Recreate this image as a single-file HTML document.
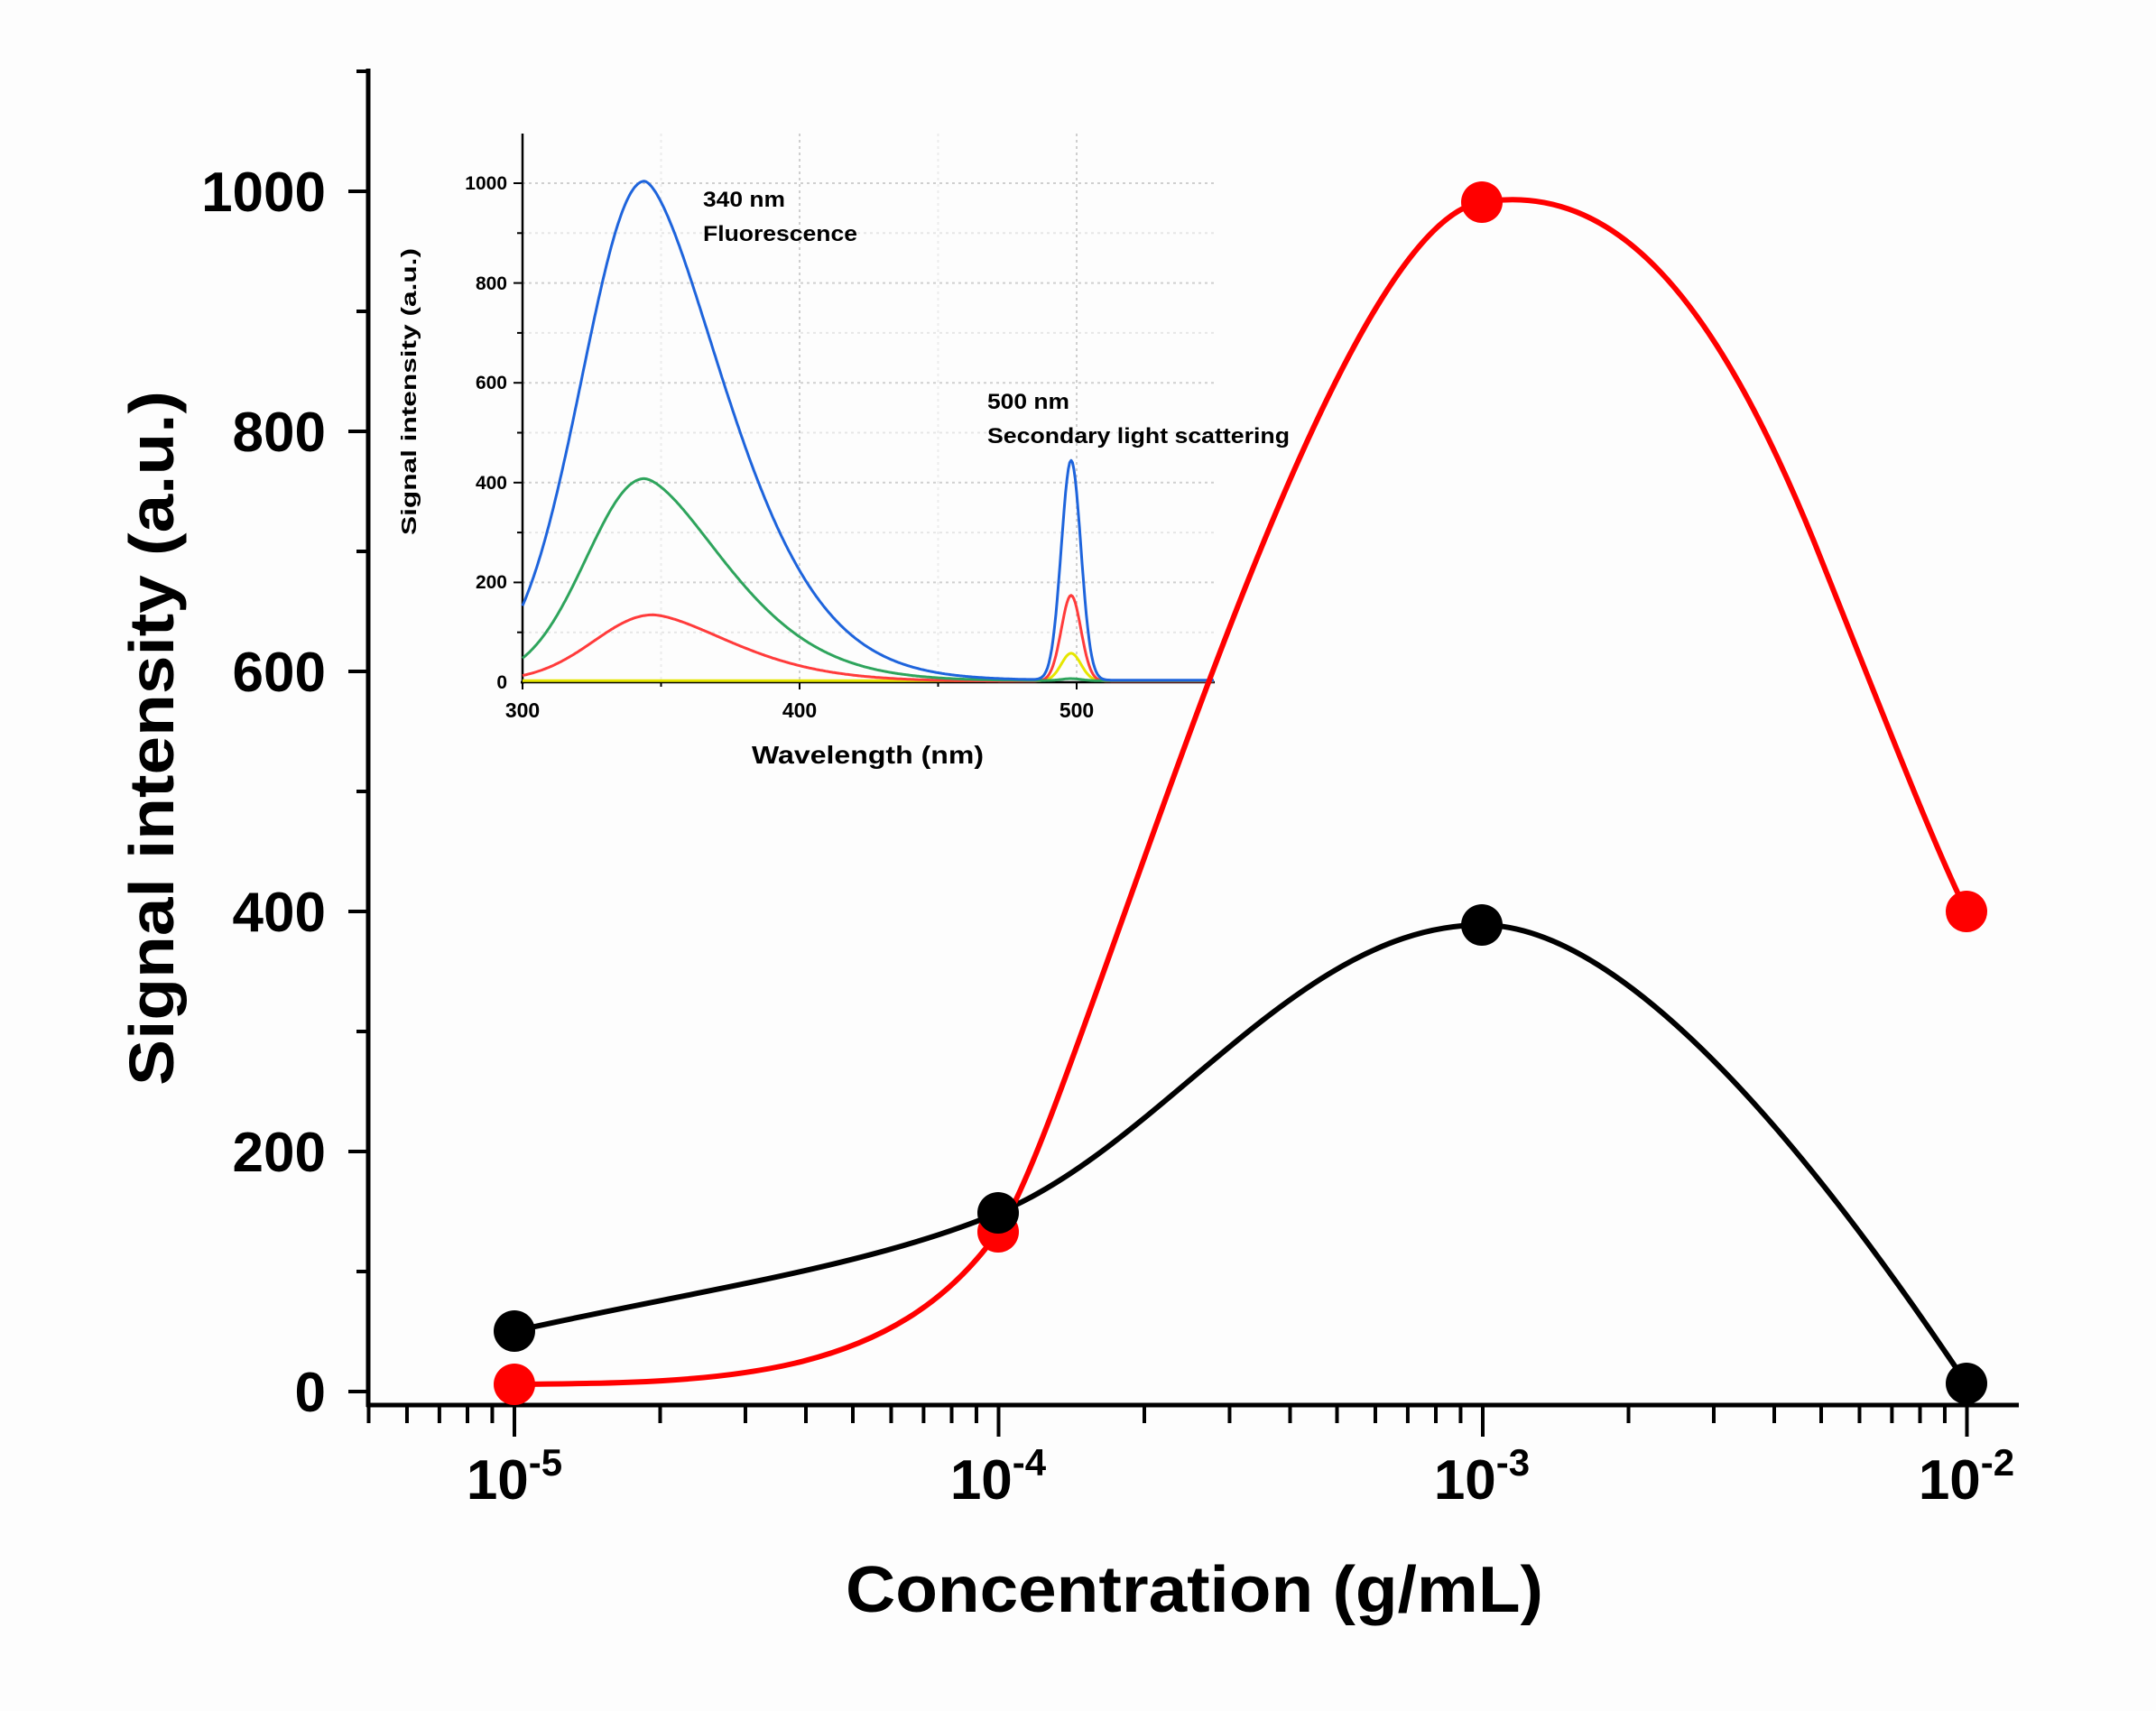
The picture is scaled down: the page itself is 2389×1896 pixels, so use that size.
<!DOCTYPE html>
<html><head><meta charset="utf-8"><style>
html,body{margin:0;padding:0;background:#fdfdfd;}
svg{display:block;}
text{font-family:"Liberation Sans",Arial,sans-serif;font-weight:bold;fill:#000;}
</style></head><body>
<svg id="s" width="2389" height="1896" viewBox="0 0 2389 1896" xmlns="http://www.w3.org/2000/svg">
<rect width="2389" height="1896" fill="#fdfdfd"/>
<g id="grid" stroke="#cfcfcf" stroke-width="2" stroke-dasharray="3,4"></g>
<g id="ticks" stroke="#000" fill="none"></g>
<line x1="408" y1="76" x2="408" y2="1559" stroke="#000" stroke-width="5"/>
<line x1="406" y1="1557" x2="2237" y2="1557" stroke="#000" stroke-width="5"/>
<g font-size="62" text-anchor="end">
<text x="361" y="1564">0</text>
<text x="361" y="1298">200</text>
<text x="361" y="1032">400</text>
<text x="361" y="766">600</text>
<text x="361" y="500">800</text>
<text x="361" y="234">1000</text>
</g>
<g font-size="62" text-anchor="middle">
<text x="570" y="1661">10<tspan font-size="42" dy="-26">-5</tspan></text>
<text x="1106" y="1661">10<tspan font-size="42" dy="-26">-4</tspan></text>
<text x="1642" y="1661">10<tspan font-size="42" dy="-26">-3</tspan></text>
<text x="2179" y="1661">10<tspan font-size="42" dy="-26">-2</tspan></text>
</g>
<text x="937" y="1786" font-size="72" textLength="773" lengthAdjust="spacingAndGlyphs">Concentration (g/mL)</text>
<text transform="translate(192,818) rotate(-90)" font-size="70" text-anchor="middle" textLength="770" lengthAdjust="spacingAndGlyphs">Signal intensity (a.u.)</text>

<line x1="579" y1="148" x2="579" y2="758" stroke="#000" stroke-width="2.5"/>
<line x1="577" y1="756" x2="1346" y2="756" stroke="#000" stroke-width="2.5"/>
<g font-size="21" text-anchor="end">
<text x="562" y="763">0</text>
<text x="562" y="652">200</text>
<text x="562" y="542">400</text>
<text x="562" y="431">600</text>
<text x="562" y="321">800</text>
<text x="562" y="210">1000</text>
</g>
<g font-size="23" text-anchor="middle">
<text x="579" y="795">300</text>
<text x="886" y="795">400</text>
<text x="1193" y="795">500</text>
</g>
<text x="833" y="846" font-size="28" textLength="257" lengthAdjust="spacingAndGlyphs">Wavelength (nm)</text>
<text transform="translate(461,434) rotate(-90)" font-size="23" text-anchor="middle" textLength="318" lengthAdjust="spacingAndGlyphs">Signal intensity (a.u.)</text>
<g font-size="24">
<text x="779" y="229" textLength="91" lengthAdjust="spacingAndGlyphs">340 nm</text>
<text x="779" y="267" textLength="171" lengthAdjust="spacingAndGlyphs">Fluorescence</text>
<text x="1094" y="453" textLength="91" lengthAdjust="spacingAndGlyphs">500 nm</text>
<text x="1094" y="491" textLength="335" lengthAdjust="spacingAndGlyphs">Secondary light scattering</text>
</g>
<g id="spec" fill="none" stroke-width="3" stroke-linejoin="round"></g>

<path d="M570,1475 C760,1432 960,1405 1106,1344 C1290,1268 1440,1025 1642,1025 C1820,1025 2050,1340 2179,1533" fill="none" stroke="#000" stroke-width="6"/>
<path d="M570,1534 C800,1532 990,1530 1106,1365 C1190,1250 1460,250 1642,224 C1790,200 1900,330 2010,600 C2090,800 2140,930 2179,1010" fill="none" stroke="#ff0000" stroke-width="6"/>
<g fill="#000">
<circle cx="570" cy="1475" r="23"/><circle cx="1642" cy="1025" r="23"/><circle cx="2179" cy="1533" r="23"/>
</g>
<g fill="#ff0000">
<circle cx="570" cy="1534" r="23"/><circle cx="1106" cy="1365" r="23"/><circle cx="1642" cy="224" r="23"/><circle cx="2179" cy="1010" r="23"/>
</g>
<circle cx="1106" cy="1344" r="23" fill="#000"/>
</svg>
<script>
(function(){
var NS="http://www.w3.org/2000/svg";
function el(p,n,a){var e=document.createElementNS(NS,n);for(var k in a)e.setAttribute(k,a[k]);p.appendChild(e);return e;}
var t=document.getElementById('ticks');
for(var v=0;v<=1100;v+=100){var y=1542-1.33*v;var L=(v%200==0)?22:13;el(t,'line',{x1:408-L,y1:y,x2:408,y2:y,'stroke-width':4});}
function X(c){return 570+536.5*(Math.log10(c)+5);}
for(var d=-6;d<=-2;d++){for(var m=1;m<=9;m++){var c=m*Math.pow(10,d);var x=X(c);if(x<406||x>2237)continue;var L=(m==1)?35:20;el(t,'line',{x1:x,y1:1557,x2:x,y2:1557+L,'stroke-width':4});}}
var g=document.getElementById('grid');
function IX(w){return 579+3.07*(w-300);}function IY(v){return 756-0.553*v;}
for(var v=100;v<=1000;v+=100){el(g,'line',{x1:579,y1:IY(v),x2:1345,y2:IY(v),stroke:(v%200?'#e6e6e6':'#cfcfcf')});el(t,'line',{x1:(v%200?573:569),y1:IY(v),x2:579,y2:IY(v),'stroke-width':2});}
[400,500].forEach(function(w){el(g,'line',{x1:IX(w),y1:148,x2:IX(w),y2:756});});
[350,450].forEach(function(w){el(g,'line',{x1:IX(w),y1:148,x2:IX(w),y2:756,stroke:'#ececec'});});
[300,400,500].forEach(function(w){el(t,'line',{x1:IX(w),y1:756,x2:IX(w),y2:764,'stroke-width':2});});
[350,450].forEach(function(w){el(t,'line',{x1:IX(w),y1:756,x2:IX(w),y2:761,'stroke-width':2});});
var sp=document.getElementById('spec');
function fl(w,A,c,wl,wr){var x=w-c;if(x<0)return A*Math.exp(-Math.pow(-x/wl,2));return A*Math.exp(-Math.pow(x/wr,1.6));}
function pk(w,A){return A*Math.exp(-Math.pow((w-498)/5,2));}
var S=[
 {col:'#e6e600',f:function(w){return 3+pk(w,55);}},
 {col:'#ff3b3b',f:function(w){return fl(w,133,347,30,42)+pk(w,172)+2;}},
 {col:'#2ea45c',f:function(w){return fl(w,405,344,29.7,43)+pk(w,4)+3;}},
 {col:'#1e64dc',f:function(w){return fl(w,1000,344,31.9,43.2)+pk(w,440)+4;}}
];
S.forEach(function(s){var d='';for(var w=300;w<=549.5;w+=0.5){d+=(w==300?'M':'L')+IX(w).toFixed(1)+','+IY(s.f(w)).toFixed(1);}el(sp,'path',{d:d,stroke:s.col});});
})();
</script>
</body></html>
